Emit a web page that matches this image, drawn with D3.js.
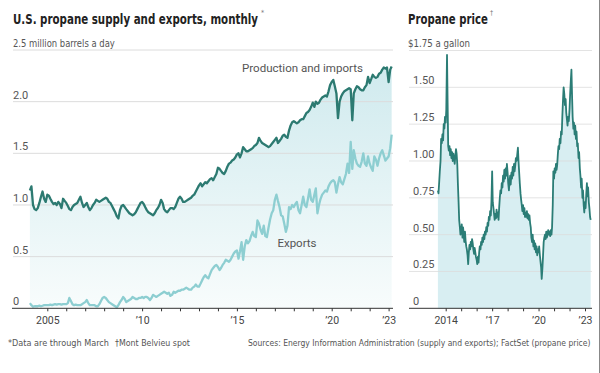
<!DOCTYPE html>
<html>
<head>
<meta charset="utf-8">
<script src="https://cdn.jsdelivr.net/npm/d3@7"></script>
<style>
  body { margin: 0; background: #fff; }
  text { font-family: Roboto, 'Liberation Sans', sans-serif; }
  .narrow { font-family: 'Liberation Sans Narrow', 'DejaVu Sans Condensed', Roboto, sans-serif; }
</style>
</head>
<body>
<div id="chart"></div>
<script>
// monthly, Feb 2004 - Mar 2023, million barrels a day
const productionImports = [
  1.14, 1.18, 1.00, 0.96, 0.95, 0.97, 1.02, 1.08, 1.13, 1.06, 1.03,
  1.10, 1.09, 1.06, 1.03, 1.01, 1.02, 1.00, 1.03, 1.01, 0.97, 1.06, 1.04,
  1.02, 0.99, 0.96, 0.95, 0.98, 1.00, 1.01, 1.02, 1.05, 1.08, 1.02, 0.98,
  1.00, 1.02, 0.98, 0.95, 0.97, 1.00, 1.02, 1.05, 1.04, 1.03, 1.04, 1.05,
  1.06, 1.07, 1.06, 1.03, 1.02, 0.99, 0.96, 0.93, 0.89, 0.87, 0.95, 0.99,
  1.00, 0.98, 0.96, 0.94, 0.92, 0.91, 0.90, 0.91, 0.93, 0.96, 0.99, 1.02,
  1.03, 1.01, 0.98, 0.95, 0.93, 0.92, 0.91, 0.90, 0.92, 0.95, 0.97, 1.00,
  1.05, 1.02, 0.96, 0.94, 0.93, 0.95, 0.97, 0.97, 0.96, 0.98, 1.02, 1.06,
  1.08, 1.06, 1.03, 1.03, 1.04, 1.05, 1.06, 1.07, 1.09, 1.10, 1.13, 1.16,
  1.19, 1.21, 1.18, 1.20, 1.22, 1.21, 1.23, 1.25, 1.26, 1.24, 1.27, 1.30,
  1.36, 1.35, 1.33, 1.31, 1.30, 1.33, 1.37, 1.40, 1.41, 1.43, 1.44, 1.46,
  1.49, 1.50, 1.46, 1.50, 1.56, 1.54, 1.52, 1.52, 1.53, 1.54, 1.55, 1.57,
  1.58, 1.60, 1.65, 1.62, 1.60, 1.59, 1.58, 1.57, 1.56, 1.57, 1.59, 1.61,
  1.63, 1.65, 1.60, 1.62, 1.64, 1.67, 1.68, 1.66, 1.65, 1.72, 1.77, 1.80,
  1.81, 1.80, 1.79, 1.80, 1.82, 1.83, 1.83, 1.86, 1.89, 1.90, 1.92, 1.95,
  1.99, 1.95, 2.00, 1.98, 1.99, 2.02, 2.04, 2.05, 2.06, 2.05, 2.10, 2.16,
  2.19, 2.21, 2.15, 2.08, 1.84, 2.00, 2.05, 2.08, 2.10, 2.11, 2.12, 2.13,
  2.12, 1.82, 2.08, 2.12, 2.15, 2.14, 2.12, 2.11, 2.11, 2.14, 2.16, 2.24,
  2.18, 2.22, 2.26, 2.24, 2.23, 2.24, 2.27, 2.28, 2.31, 2.33, 2.32, 2.33,
  2.19, 2.31, 2.34
]

const exportsSeries = [
  0.05, 0.03, 0.015, 0.02, 0.02, 0.02, 0.025, 0.02, 0.025, 0.03, 0.03,
  0.03, 0.03, 0.035, 0.03, 0.035, 0.04, 0.035, 0.04, 0.04, 0.035, 0.04, 0.04,
  0.04, 0.05, 0.10, 0.07, 0.04, 0.03, 0.035, 0.03, 0.03, 0.03, 0.04, 0.05,
  0.06, 0.08, 0.05, 0.03, 0.03, 0.03, 0.03, 0.02, 0.02, 0.04, 0.07, 0.10,
  0.11, 0.10, 0.08, 0.06, 0.05, 0.04, 0.03, 0.02, 0.01, 0.03, 0.06, 0.08,
  0.11, 0.09, 0.06, 0.07, 0.08, 0.09, 0.11, 0.10, 0.09, 0.09, 0.10, 0.10,
  0.11, 0.10, 0.11, 0.11, 0.10, 0.08, 0.10, 0.13, 0.12, 0.11, 0.12, 0.13,
  0.14, 0.15, 0.16, 0.15, 0.14, 0.15, 0.12, 0.13, 0.16, 0.15, 0.16, 0.17,
  0.17, 0.18, 0.18, 0.19, 0.20, 0.19, 0.18, 0.18, 0.20, 0.21, 0.23, 0.21,
  0.21, 0.24, 0.27, 0.30, 0.32, 0.30, 0.29, 0.33, 0.37, 0.39, 0.41, 0.42,
  0.40, 0.37, 0.39, 0.42, 0.44, 0.47, 0.46, 0.45, 0.47, 0.50, 0.53, 0.55,
  0.56, 0.48, 0.55, 0.64, 0.47, 0.60, 0.66, 0.63, 0.65, 0.70, 0.74, 0.70,
  0.69, 0.85, 0.82, 0.76, 0.72, 0.80, 0.70, 0.69, 0.78, 0.86, 0.92, 0.95,
  1.05, 1.10, 1.04, 0.98, 0.90, 0.89, 0.82, 0.74, 0.80, 0.98, 0.96, 1.00,
  0.98, 1.01, 1.03, 0.95, 0.92, 1.00, 1.08, 1.00, 0.98, 1.06, 1.15, 1.05,
  1.03, 1.10, 1.16, 0.92, 1.00, 1.06, 1.10, 1.12, 1.14, 1.13, 1.18, 1.21,
  1.23, 1.24, 1.22, 1.12, 1.20, 1.27, 1.22, 1.20, 1.25, 1.30, 1.40, 1.31,
  1.61, 1.35, 1.53, 1.45, 1.40, 1.38, 1.37, 1.42, 1.50, 1.40, 1.38, 1.47,
  1.40, 1.36, 1.33, 1.47, 1.44, 1.38, 1.45, 1.50, 1.53, 1.48, 1.43, 1.45,
  1.47, 1.55, 1.68
]

// Mont Belvieu spot, 1st and 15th of each month, Jul 2013 - May 2023, $ a gallon
const propanePrice = [
  0.80, 0.78, 0.86, 0.93, 1.00, 1.15, 1.12, 1.18, 1.14, 1.25, 1.22, 1.30,
  1.26, 1.35, 1.72, 1.40, 1.10, 1.07, 1.10, 1.04, 1.08, 1.02, 1.06, 1.00,
  1.05, 1.02, 0.98, 1.03, 1.08, 1.05, 0.98, 0.85, 0.72, 0.60, 0.55, 0.50,
  0.52, 0.57, 0.48, 0.55, 0.50, 0.45, 0.52, 0.46, 0.42, 0.40, 0.36, 0.30,
  0.38, 0.43, 0.40, 0.45, 0.42, 0.47, 0.44, 0.40, 0.37, 0.41, 0.38, 0.35,
  0.33, 0.30, 0.35, 0.31, 0.38, 0.42, 0.40, 0.45, 0.43, 0.48, 0.45, 0.50,
  0.47, 0.52, 0.50, 0.55, 0.52, 0.58, 0.56, 0.62, 0.60, 0.66, 0.63, 0.72,
  0.93, 0.72, 0.68, 0.64, 0.60, 0.64, 0.61, 0.67, 0.62, 0.65, 0.60, 0.68,
  0.75, 0.80, 0.78, 0.85, 0.82, 0.90, 0.86, 0.94, 0.88, 0.95, 0.90, 0.98,
  0.92, 0.85, 0.80, 0.86, 0.90, 0.84, 0.92, 0.88, 0.96, 0.90, 0.98, 0.93,
  0.97, 1.02, 1.00, 1.04, 1.09, 1.00, 0.92, 0.85, 0.78, 0.74, 0.70, 0.66,
  0.70, 0.64, 0.68, 0.62, 0.65, 0.62, 0.66, 0.61, 0.64, 0.60, 0.63, 0.58,
  0.55, 0.48, 0.45, 0.50, 0.42, 0.46, 0.40, 0.44, 0.38, 0.42, 0.36, 0.40,
  0.38, 0.42, 0.36, 0.32, 0.28, 0.20, 0.27, 0.35, 0.45, 0.48, 0.50, 0.47,
  0.52, 0.48, 0.50, 0.53, 0.50, 0.52, 0.49, 0.53, 0.50, 0.55, 0.70, 0.93,
  0.88, 0.95, 0.92, 0.98, 0.94, 0.97, 1.05, 1.10, 1.08, 1.15, 1.12, 1.20,
  1.18, 1.30, 1.42, 1.50, 1.45, 1.38, 1.42, 1.33, 1.28, 1.24, 1.30, 1.27,
  1.35, 1.45, 1.55, 1.62, 1.45, 1.30, 1.22, 1.26, 1.18, 1.24, 1.15, 1.20,
  1.10, 1.12, 1.02, 1.06, 0.95, 0.90, 0.82, 0.88, 0.75, 0.80, 0.70, 0.65,
  0.72, 0.68, 0.78, 0.85, 0.76, 0.82, 0.72, 0.68, 0.62, 0.60
]

const supplyYTicks = [0, 0.5, 1.0, 1.5, 2.0]
const priceYTicks = [0, 0.25, 0.5, 0.75, 1.0, 1.25, 1.5]
const supplyXTicks = d3.range(2005, 2024)
const priceXTicks = d3.range(2014, 2024)
const supplyXLabels = { 2005: '2005', 2010: '\u201910', 2015: '\u201915', 2020: '\u201920', 2023: '\u201923' }
const priceXLabels = { 2014: '2014', 2017: '\u201917', 2020: '\u201920', 2023: '\u201923' }

const supplyMonths = d3.timeMonth.range(new Date(2004, 1, 1), new Date(2023, 3, 1))
const priceDays = d3.timeMonth.range(new Date(2013, 6, 1), new Date(2023, 5, 1))
  .flatMap(m => [m, new Date(m.getFullYear(), m.getMonth(), 15)])

const supply = supplyMonths.map((d, i) => ({ date: d, prod: productionImports[i], exp: exportsSeries[i] }))
const price = priceDays.map((d, i) => ({ date: d, value: propanePrice[i] }))

const width = 600
const height = 373
const baseY = 308.3

const svg = d3.select('#chart')
  .append('svg')
  .attr('width', width)
  .attr('height', height)

const defs = svg.append('defs')
const grad = defs.append('linearGradient')
  .attr('id', 'supplyFill')
  .attr('gradientUnits', 'userSpaceOnUse')
  .attr('x1', 0).attr('x2', 0)
  .attr('y1', 50).attr('y2', baseY)
grad.append('stop').attr('offset', 0).attr('stop-color', '#cde9ed')
grad.append('stop').attr('offset', 1).attr('stop-color', '#f8fcfc')

// ---- left panel: supply and exports
const xL = d3.scaleTime()
  .domain([new Date(2005, 0, 1), new Date(2023, 0, 1)])
  .range([47.3, 388.6])
const yL = d3.scaleLinear().domain([0, 2.5]).range([baseY, 50])

svg.append('path')
  .datum(supply)
  .attr('fill', 'url(#supplyFill)')
  .attr('d', d3.area().x(d => xL(d.date)).y0(yL(0)).y1(d => yL(d.prod)))

svg.selectAll('.grid-l')
  .data([0.5, 1.0, 1.5, 2.0, 2.5])
  .enter()
  .append('line')
  .attr('x1', 13).attr('x2', 393)
  .attr('y1', d => yL(d)).attr('y2', d => yL(d))
  .attr('stroke', '#dcdcdc')
  .attr('stroke-width', 1)

svg.selectAll('.ylab-l')
  .data(supplyYTicks)
  .enter()
  .append('text')
  .attr('x', 13)
  .attr('y', d => yL(d) - 3)
  .attr('font-size', 11)
  .attr('fill', '#555')
  .text(d => d === 0 ? '0' : d.toFixed(1))

svg.append('path')
  .datum(supply)
  .attr('fill', 'none')
  .attr('stroke', '#8dced1')
  .attr('stroke-width', 2.3)
  .attr('stroke-linejoin', 'round')
  .attr('d', d3.line().x(d => xL(d.date)).y(d => yL(d.exp)))

svg.append('path')
  .datum(supply)
  .attr('fill', 'none')
  .attr('stroke', '#2c7a71')
  .attr('stroke-width', 2.3)
  .attr('stroke-linejoin', 'round')
  .attr('d', d3.line().x(d => xL(d.date)).y(d => yL(d.prod)))

const xAxisL = d3.axisBottom(xL)
  .tickValues(supplyXTicks.map(y => new Date(y, 0, 1)))
  .tickSize(3)
  .tickPadding(5)
  .tickFormat(d => supplyXLabels[d.getFullYear()] || '')

const gL = svg.append('g')
  .attr('transform', `translate(0,${baseY})`)
  .call(xAxisL)
gL.select('.domain').remove()
gL.append('line').attr('x1', 12).attr('x2', 393).attr('stroke', '#333')
gL.selectAll('.tick line').attr('stroke', '#333')
gL.selectAll('text').attr('font-size', 10.5).attr('fill', '#444').attr('font-family', 'Roboto')

// ---- right panel: price
const xR = d3.scaleTime()
  .domain([new Date(2014, 0, 1), new Date(2023, 0, 1)])
  .range([445.7, 585])
const yR = d3.scaleLinear().domain([0, 1.75]).range([baseY, 50.5])

svg.append('path')
  .datum(price)
  .attr('fill', '#d8eef2')
  .attr('d', d3.area().x(d => xR(d.date)).y0(yR(0)).y1(d => yR(d.value)))

svg.selectAll('.grid-r')
  .data([0.25, 0.5, 0.75, 1.0, 1.25, 1.5, 1.75])
  .enter()
  .append('line')
  .attr('x1', 409).attr('x2', 592)
  .attr('y1', d => yR(d)).attr('y2', d => yR(d))
  .attr('stroke', '#dcdcdc')
  .attr('stroke-opacity', 0.8)

svg.selectAll('.ylab-r')
  .data(priceYTicks)
  .enter()
  .append('text')
  .attr('x', 413)
  .attr('y', d => yR(d) - 3)
  .attr('font-size', 11)
  .attr('fill', '#555')
  .text(d => d === 0 ? '0' : d.toFixed(2))

svg.append('path')
  .datum(price)
  .attr('fill', 'none')
  .attr('stroke', '#2b7d76')
  .attr('stroke-width', 1.8)
  .attr('stroke-linejoin', 'round')
  .attr('d', d3.line().x(d => xR(d.date)).y(d => yR(d.value)))

const xAxisR = d3.axisBottom(xR)
  .tickValues(priceXTicks.map(y => new Date(y, 0, 1)))
  .tickSize(3)
  .tickPadding(5)
  .tickFormat(d => priceXLabels[d.getFullYear()] || '')

const gR = svg.append('g')
  .attr('transform', `translate(0,${baseY})`)
  .call(xAxisR)
gR.select('.domain').remove()
gR.append('line').attr('x1', 409).attr('x2', 592).attr('stroke', '#333')
gR.selectAll('.tick line').attr('stroke', '#333')
gR.selectAll('text').attr('font-size', 10.5).attr('fill', '#444').attr('font-family', 'Roboto')

// ---- titles, labels, notes
// narrow text: measure the natural width, then squeeze it horizontally to the width in the picture
function label(x, y, str, size, color, len, weight, cls) {
  const t = svg.append('text')
    .attr('class', cls === undefined ? 'narrow' : cls)
    .attr('font-size', size)
    .attr('fill', color)
    .attr('font-weight', weight || 'normal')
    .text(str)
  const w = t.node().getComputedTextLength()
  const k = len ? len / w : 1
  t.attr('transform', `translate(${x},${y}) scale(${k},1)`)
  return t
}

label(13, 24, 'U.S. propane supply and exports, monthly', 14.5, '#222', 245, 'bold')
label(261, 15, '*', 7, '#777')
label(13, 47, '2.5 million barrels a day', 10.5, '#555', 102)

label(408, 24, 'Propane price', 14.5, '#222', 80, 'bold')
label(490, 15, '\u2020', 7, '#777')
label(408, 47, '$1.75 a gallon', 10.5, '#555', 62)

label(242, 72, 'Production and imports', 11.5, '#555', 121, 'normal', '')

svg.append('text')
  .attr('x', 297).attr('y', 247)
  .attr('text-anchor', 'middle')
  .attr('font-size', 11.5)
  .attr('fill', '#555')
  .text('Exports')

label(8, 346, '*Data are through March', 8.5, '#555', 101)
label(115, 346, '\u2020Mont Belvieu spot', 8.5, '#555', 75)
label(248, 346, 'Sources: Energy Information Administration (supply and exports); FactSet (propane price)', 8.5, '#555', 343)

svg.append('line')
  .attr('x1', 599.5).attr('x2', 599.5)
  .attr('y1', 0).attr('y2', height)
  .attr('stroke', '#888')
</script>
</body>
</html>
